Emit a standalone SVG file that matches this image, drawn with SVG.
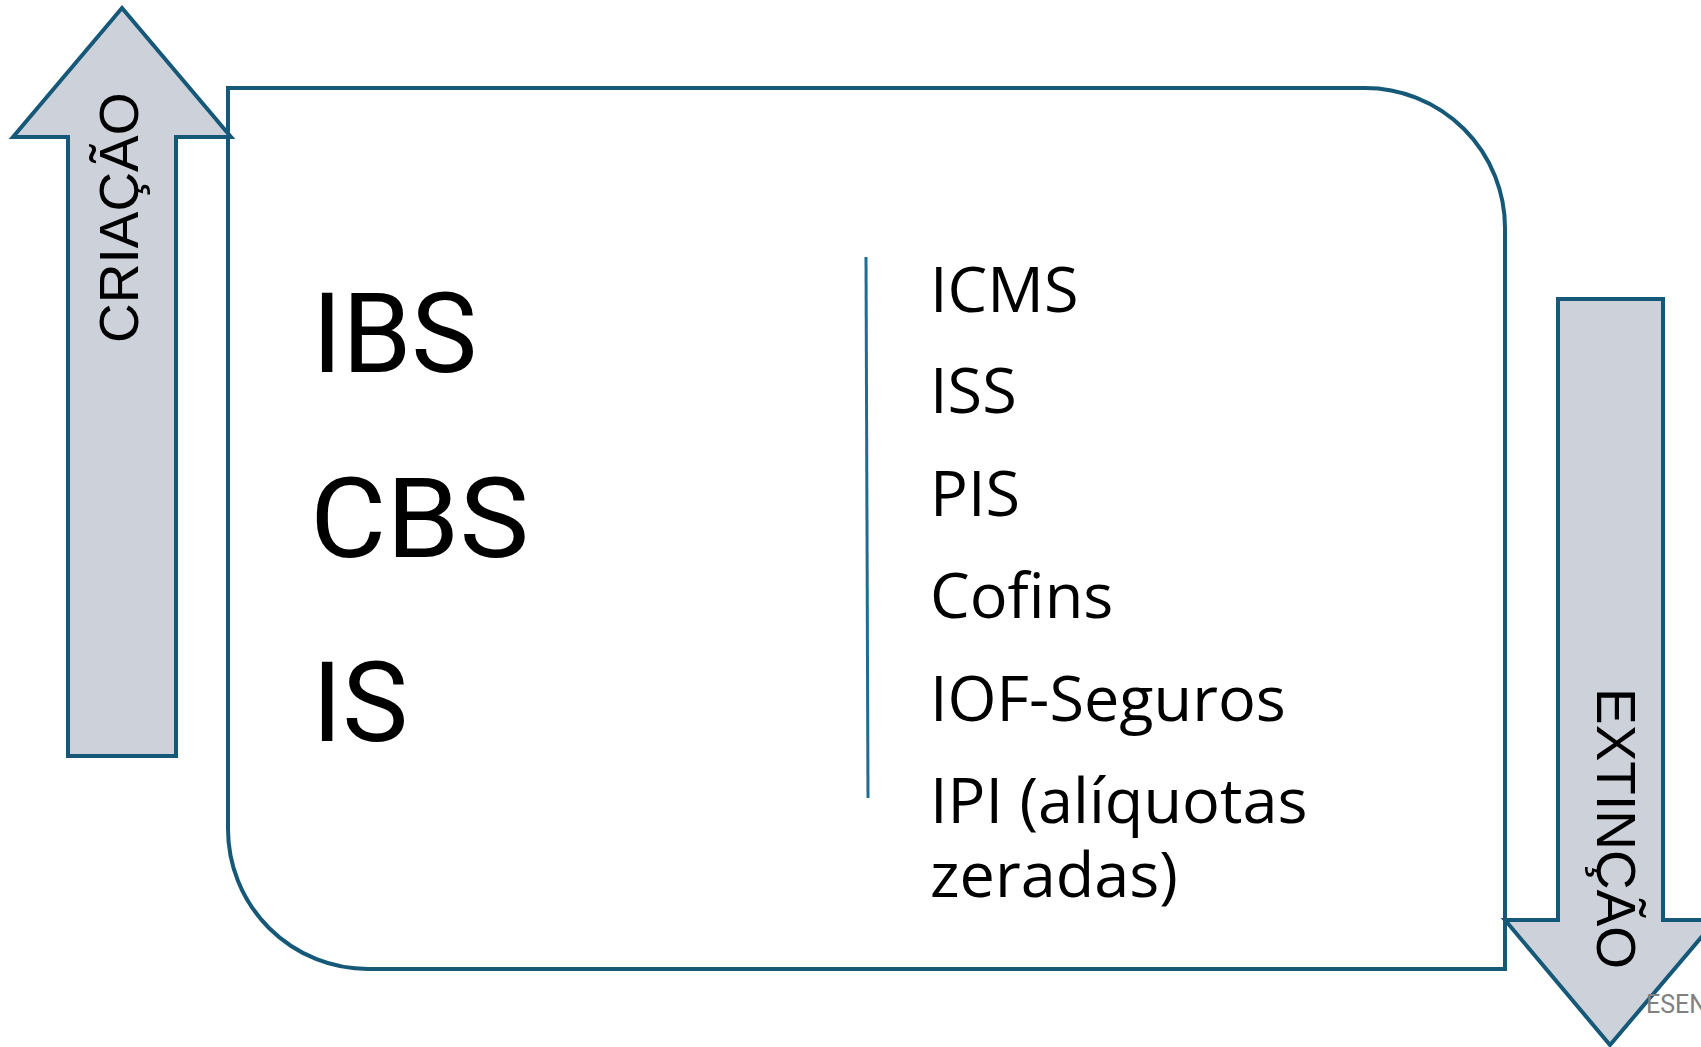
<svg xmlns="http://www.w3.org/2000/svg" width="1701" height="1047" viewBox="0 0 1701 1047">
<style>
.shape{stroke:#155878;stroke-width:4;}
.arrow{fill:#cdd2da;}
.box{fill:#ffffff;}
.big{font-family:Roboto,"Liberation Sans",sans-serif;font-size:111px;fill:#000;}
.item{font-family:"Open Sans","Noto Sans","Liberation Sans",sans-serif;font-size:63px;fill:#000;}
.lbl{font-family:"Liberation Sans",Arial,sans-serif;font-size:55px;fill:#000;}
</style>
<rect width="1701" height="1047" fill="#ffffff"/>
<g id="main-box">
<path class="shape box" d="M228,88 H1365 A140,140 0 0 1 1505,228 V969 H368 A140,140 0 0 1 228,829 Z"/>
</g>
<g id="criacao">
<polygon class="shape arrow" points="122,8 231,137 176,137 176,756 68,756 68,137 13,137"/>
<text class="lbl" transform="translate(138,343) rotate(-90)">CRIAÇÃO</text>
</g>
<g id="extincao">
<polygon class="shape arrow" points="1558,299 1663,299 1663,920 1716,920 1610,1045 1505,920 1558,920"/>
<text class="lbl" transform="translate(1597,688) rotate(90)">EXTINÇÃO</text>
</g>
<text x="1646" y="1013" font-family="Roboto,'Liberation Sans',sans-serif" font-size="25" fill="#808080">ESEN</text>
<g id="novos">
<text class="big" x="312" y="372">IBS</text>
<text class="big" x="310" y="557" textLength="219" lengthAdjust="spacingAndGlyphs">CBS</text>
<text class="big" x="312" y="741">IS</text>
</g>
<g id="connectors">
<line x1="866" y1="257" x2="868" y2="798" stroke="#1f6b92" stroke-width="3"/>
</g>
<g id="extintos">
<text class="item" x="930" y="312">ICMS</text>
<text class="item" x="930" y="413">ISS</text>
<text class="item" x="930" y="516">PIS</text>
<text class="item" x="930" y="618">Cofins</text>
<text class="item" x="930" y="721">IOF-Seguros</text>
<text class="item" x="930" y="823">IPI (alíquotas</text>
<text class="item" x="930" y="897">zeradas)</text>
</g>
</svg>
